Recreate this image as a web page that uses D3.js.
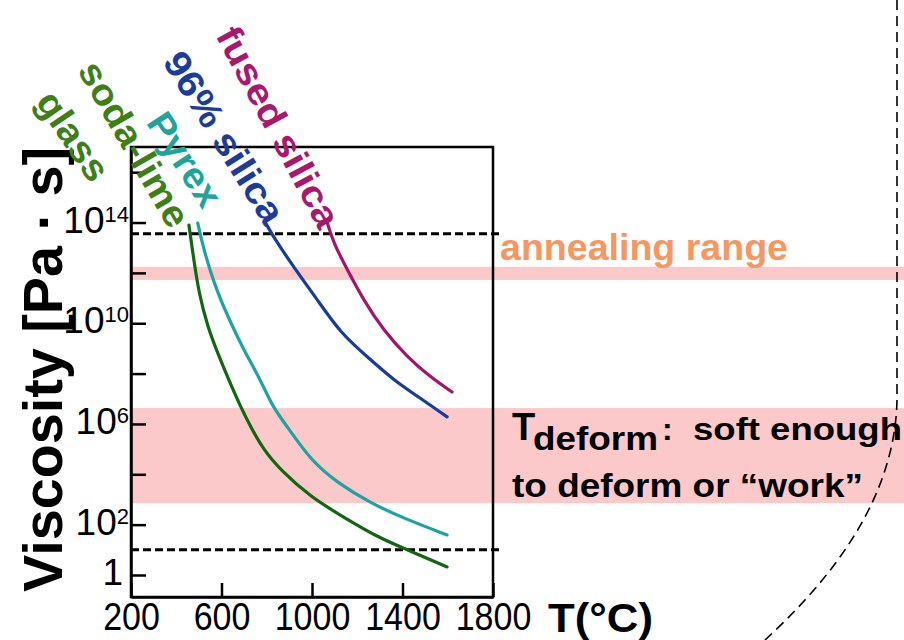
<!DOCTYPE html>
<html>
<head>
<meta charset="utf-8">
<script src="https://cdn.jsdelivr.net/npm/d3@7"></script>
<style>
  body { margin: 0; background: #fff; }
  svg text { font-family: "Liberation Sans", Arial, sans-serif; }
</style>
</head>
<body>
<div id="chart"></div>
<script>
// Temperature (°C) and log10 viscosity (Pa·s)
const sodaLimeT    = [456, 478, 500, 539, 583, 632, 685, 729, 786, 861, 993, 1139, 1289, 1403, 1597];
const sodaLimeLogV = [13.9, 12.5, 11.2, 9.85, 8.82, 7.75, 6.67, 5.88, 4.97, 4.17, 3.10, 2.30, 1.51, 1.07, 0.32];
const pyrexT       = [495, 522, 566, 628, 698, 773, 826, 892, 993, 1112, 1258, 1403, 1597];
const pyrexLogV    = [13.98, 12.91, 11.6, 10.25, 8.94, 7.75, 6.67, 5.88, 4.57, 3.66, 2.86, 2.26, 1.59];
const silica96T    = [795, 830, 918, 1024, 1126, 1245, 1359, 1491, 1597];
const silica96LogV = [13.98, 13.43, 12.24, 10.93, 9.61, 8.66, 7.75, 6.95, 6.28];
const fusedT       = [1068, 1095, 1156, 1227, 1315, 1421, 1522, 1619];
const fusedLogV    = [13.98, 13.19, 12.12, 10.93, 9.73, 8.66, 7.87, 7.27];

// shaded ranges and dashed reference levels (log10 Pa·s)
const annealingBand = [11.72, 12.24];
const deformBand = [2.86, 6.63];
const refLevels = [13.55, 1.0];

// axis ticks
const xTicks = [200, 600, 1000, 1400, 1800];
const yTickExps = [0, 2, 4, 6, 8, 10, 12, 14, 16];
const yLabelExps = [0, 2, 6, 10, 14];

const W = 904, H = 640;
const svg = d3.select('#chart').append('svg')
    .attr('width', W).attr('height', H);

const x = d3.scaleLinear().domain([200, 1800]).range([131, 493]);
const y = d3.scaleLog().domain([Math.pow(10, -0.874), 1e17]).range([597, 147]);
const yl = v => y(Math.pow(10, v));

// Pink bands
[annealingBand, deformBand].forEach(b => {
    svg.append('rect')
        .attr('x', x(200))
        .attr('y', yl(b[1]))
        .attr('width', W - x(200))
        .attr('height', yl(b[0]) - yl(b[1]))
        .attr('fill', '#fbc9c9');
});

// Dashed reference lines
refLevels.forEach(v => {
    svg.append('line')
        .attr('x1', x(200)).attr('x2', x(1800) + 6)
        .attr('y1', yl(v)).attr('y2', yl(v))
        .attr('stroke', '#000')
        .attr('stroke-width', 3)
        .attr('stroke-dasharray', '8,4');
});

// Frame
svg.append('rect')
    .attr('x', x(200)).attr('y', y.range()[1])
    .attr('width', x(1800) - x(200))
    .attr('height', y.range()[0] - y.range()[1])
    .attr('fill', 'none')
    .attr('stroke', '#000')
    .attr('stroke-width', 2.5);

// Y axis (ticks point inward)
const yAxis = svg.append('g')
    .attr('transform', `translate(${x(200)},0)`)
    .call(d3.axisLeft(y)
        .tickValues(yTickExps.map(e => Math.pow(10, e)))
        .tickSize(-15).tickSizeOuter(0).tickFormat(''));
yAxis.select('.domain').attr('stroke-width', 2.5);
yAxis.selectAll('.tick line').attr('stroke-width', 2.5);

yLabelExps.forEach(e => {
    const t = svg.append('text')
        .attr('x', e === 0 ? 123 : 129)
        .attr('y', yl(e) + 10)
        .attr('text-anchor', 'end')
        .attr('font-size', 37);
    if (e === 0) {
        t.text('1');
    } else {
        t.append('tspan').text('10');
        t.append('tspan').attr('dy', -11).attr('font-size', 22).text(e);
    }
});

// X axis (ticks point inward)
const xAxis = svg.append('g')
    .attr('transform', `translate(0,${y.range()[0]})`)
    .call(d3.axisBottom(x).tickValues(xTicks).tickFormat(d3.format('d'))
        .tickSize(-14).tickSizeOuter(0));
xAxis.attr('font-size', null).attr('font-family', null);
xAxis.select('.domain').attr('stroke-width', 2.5);
xAxis.selectAll('.tick line').attr('stroke-width', 2.5);
xAxis.selectAll('.tick text')
    .attr('y', 28.5).attr('dy', 0)
    .attr('transform', 'scale(1,1.15)')
    .attr('fill', '#000')
    .style('font-size', '34px');

// Axis titles
svg.append('text')
    .attr('transform', 'translate(62,369.5) rotate(-90)')
    .attr('text-anchor', 'middle')
    .attr('textLength', 445)
    .attr('lengthAdjust', 'spacingAndGlyphs')
    .style('font-size', '56px').style('font-weight', 'bold')
    .text('Viscosity [Pa · s]');

svg.append('text')
    .attr('x', 548).attr('y', 632)
    .attr('textLength', 105)
    .attr('lengthAdjust', 'spacingAndGlyphs')
    .style('font-size', '40px').style('font-weight', 'bold')
    .text('T(°C)');

// Curves
const line = d3.line()
    .x(d => x(d[0]))
    .y(d => yl(d[1]))
    .curve(d3.curveBasis);

const series = [
    { T: sodaLimeT, V: sodaLimeLogV, colour: '#116611' },
    { T: pyrexT, V: pyrexLogV, colour: '#1ea3a3' },
    { T: silica96T, V: silica96LogV, colour: '#173c9a' },
    { T: fusedT, V: fusedLogV, colour: '#a0166c' }
];

series.forEach(s => {
    svg.append('path')
        .datum(s.T.map((t, i) => [t, s.V[i]]))
        .attr('d', line)
        .attr('fill', 'none')
        .attr('stroke', s.colour)
        .attr('stroke-width', 3.2)
        .attr('stroke-linecap', 'round');
});

// Rotated curve labels
const curveLabels = [
    { text: 'fused silica', cx: 277.5, cy: 127.5, angle: 62, len: 222, colour: '#a8186e' },
    { text: '96% silica', cx: 223.5, cy: 138, angle: 58, len: 195, colour: '#1c3c9c' },
    { text: 'Pyrex', cx: 184, cy: 160, angle: 57, len: 105, colour: '#1da59c' },
    { text: 'soda-lime', cx: 133.5, cy: 144.5, angle: 60, len: 185, colour: '#3f7f18' },
    { text: 'glass', cx: 72.5, cy: 136.5, angle: 56, len: 100, colour: '#3f7f18' }
];

curveLabels.forEach(l => {
    svg.append('text')
        .attr('transform', `translate(${l.cx},${l.cy}) rotate(${l.angle})`)
        .attr('text-anchor', 'middle')
        .attr('dy', '0.32em')
        .attr('textLength', l.len)
        .attr('lengthAdjust', 'spacingAndGlyphs')
        .attr('fill', l.colour)
        .style('font-size', '37px').style('font-weight', 'bold')
        .text(l.text);
});

// Band annotations
svg.append('text')
    .attr('x', 500).attr('y', 260)
    .attr('textLength', 288)
    .attr('lengthAdjust', 'spacingAndGlyphs')
    .attr('fill', '#f7975f')
    .style('font-size', '36px').style('font-weight', 'bold')
    .text('annealing range');

svg.append('text')
    .attr('x', 512).attr('y', 440)
    .style('font-size', '38px').style('font-weight', 'bold')
    .text('T');
svg.append('text')
    .attr('x', 533).attr('y', 450)
    .attr('textLength', 125)
    .attr('lengthAdjust', 'spacingAndGlyphs')
    .style('font-size', '34px').style('font-weight', 'bold')
    .text('deform');
svg.append('text')
    .attr('x', 662).attr('y', 440)
    .style('font-size', '32px').style('font-weight', 'bold')
    .text(':');
svg.append('text')
    .attr('x', 693).attr('y', 440)
    .attr('textLength', 209)
    .attr('lengthAdjust', 'spacingAndGlyphs')
    .style('font-size', '32px').style('font-weight', 'bold')
    .text('soft enough');
svg.append('text')
    .attr('x', 512).attr('y', 497)
    .attr('textLength', 351)
    .attr('lengthAdjust', 'spacingAndGlyphs')
    .style('font-size', '33px').style('font-weight', 'bold')
    .text('to deform or “work”');

// Dashed bracket on the right edge
const p = d3.path();
p.moveTo(897, 0);
p.lineTo(897, 400);
p.bezierCurveTo(895, 500, 830, 580, 765, 640);
svg.append('path')
    .attr('d', p.toString())
    .attr('fill', 'none')
    .attr('stroke', '#000')
    .attr('stroke-width', 1.6)
    .attr('stroke-dasharray', '10,6');
</script>
</body>
</html>
